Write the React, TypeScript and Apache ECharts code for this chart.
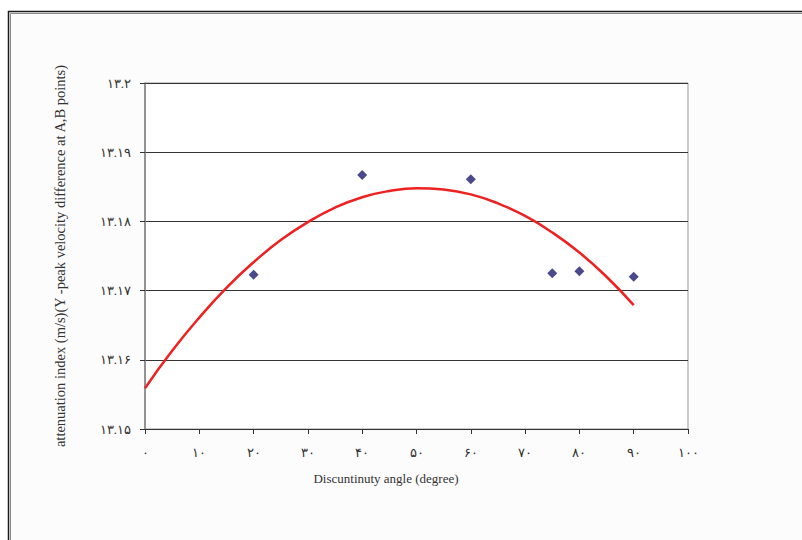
import React, { useEffect, useRef } from "react";
import * as echarts from "echarts";

const pointX = [20, 40, 60, 75, 80, 90];
const pointY = [13.1723, 13.1867, 13.1861, 13.1725, 13.1728, 13.172];

const trendX = [0, 5, 10, 15, 20, 25, 30, 35, 40, 45, 50, 55, 60, 65, 70, 75, 80, 85, 90];
const trendY = [
  13.1559, 13.1613, 13.1661, 13.1704, 13.1741, 13.1773, 13.1799, 13.182, 13.1835, 13.1844,
  13.1848, 13.1846, 13.1839, 13.1826, 13.1808, 13.1784, 13.1755, 13.172, 13.1679,
];

const xTicks = { min: 0, max: 100, interval: 10 };
const yTicks = { min: 13.15, max: 13.2, interval: 0.01 };

const xTitle = "Discuntinuty angle (degree)";
const yTitle = "attenuation index (m/s)(Y -peak velocity difference at A,B points)";

const persianDigits = "۰۱۲۳۴۵۶۷۸۹";
const toPersian = (s: string) => s.replace(/[0-9]/g, (d) => persianDigits[Number(d)]);

export default function App() {
  const ref = useRef<HTMLDivElement>(null);
  useEffect(() => {
    if (!ref.current) return;
    const chart = echarts.init(ref.current, null, { renderer: "svg" });
    const font = "'Liberation Serif', 'DejaVu Serif', serif";
    chart.setOption({
      animation: false,
      backgroundColor: "#ffffff",
      graphic: [
        {
          type: "rect",
          shape: { x: 8.5, y: 11.5, width: 820, height: 560 },
          style: { fill: "#fcfcfc", stroke: "#1a1a1a", lineWidth: 1.5 },
          z: -10,
        },
        {
          type: "polyline",
          shape: { points: [[10.5, 560], [10.5, 13.5], [820, 13.5]] },
          style: { fill: null, stroke: "#8a8a8a", lineWidth: 1 },
          z: -9,
        },
        {
          type: "text",
          x: 386,
          y: 478,
          style: {
            text: xTitle,
            font: `13px ${font}`,
            fill: "#333",
            align: "center",
            verticalAlign: "middle",
          },
        },
      ],
      grid: {
        left: 145,
        top: 83,
        width: 543,
        height: 346,
        show: true,
        backgroundColor: "#ffffff",
        borderColor: "#999999",
        borderWidth: 1,
      },
      xAxis: {
        type: "value",
        min: xTicks.min,
        max: xTicks.max,
        interval: xTicks.interval,
        axisLine: { show: true, onZero: false, lineStyle: { color: "#333", width: 1 } },
        axisTick: { show: true, length: 5, lineStyle: { color: "#333" } },
        splitLine: { show: false },
        axisLabel: {
          margin: 17,
          color: "#333",
          fontFamily: font,
          fontSize: 13,
          formatter: (v: number) => toPersian(String(v)),
        },
      },
      yAxis: {
        type: "value",
        min: yTicks.min,
        max: yTicks.max,
        interval: yTicks.interval,
        name: yTitle,
        nameLocation: "middle",
        nameRotate: 90,
        nameGap: 78,
        nameTextStyle: { fontFamily: font, fontSize: 14.5, color: "#333" },
        axisLine: { show: true, onZero: false, lineStyle: { color: "#808080", width: 1.5 } },
        axisTick: { show: true, length: 5, lineStyle: { color: "#333" } },
        splitLine: { show: true, lineStyle: { color: "#333", width: 1 } },
        axisLabel: {
          margin: 14,
          color: "#333",
          fontFamily: font,
          fontSize: 13,
          formatter: (v: number) => toPersian(String(Number(v.toFixed(2)))),
        },
      },
      series: [
        {
          type: "line",
          data: trendX.map((x, i) => [x, trendY[i]]),
          smooth: true,
          showSymbol: false,
          lineStyle: { color: "#ee2020", width: 2.5 },
          z: 2,
        },
        {
          type: "scatter",
          data: pointX.map((x, i) => [x, pointY[i]]),
          symbol: "diamond",
          symbolSize: 10,
          itemStyle: { color: "#1c1c6e" },
          z: 3,
        },
      ],
    });
    return () => chart.dispose();
  }, []);
  return (
    <div
      ref={ref}
      style={{ position: "absolute", left: 0, top: 0, width: 802, height: 540 }}
    />
  );
}
